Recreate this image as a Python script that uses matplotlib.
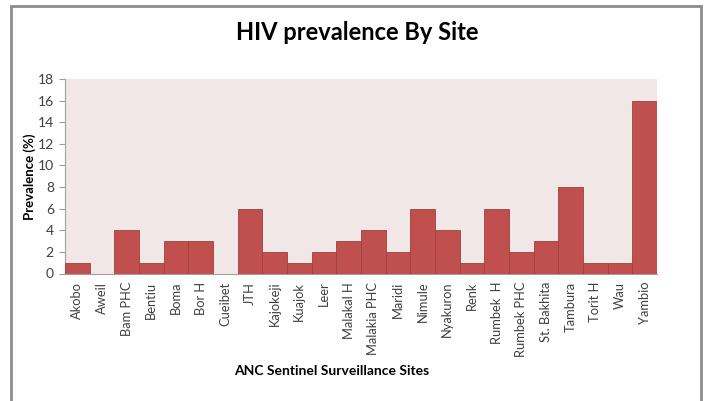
import matplotlib
matplotlib.use("Agg")
import matplotlib.pyplot as plt
from matplotlib.patches import Rectangle

sites = ["Akobo", "Aweil", "Bam PHC", "Bentiu", "Boma", "Bor H", "Cueibet",
         "JTH", "Kajokeji", "Kuajok", "Leer", "Malakal H", "Malakia PHC",
         "Maridi", "Nimule", "Nyakuron", "Renk", "Rumbek  H", "Rumbek PHC",
         "St. Bakhita", "Tambura", "Torit H", "Wau", "Yambio"]
prevalence = [1, 0, 4, 1, 3, 3, 0, 6, 2, 1, 2, 3, 4, 2, 6, 4, 1, 6, 2, 3, 8,
              1, 1, 16]
yticks = list(range(0, 19, 2))

plt.rcParams['font.family'] = ['Lato', 'DejaVu Sans']

W, H = 704, 401
fig = plt.figure(figsize=(W / 100, H / 100), dpi=100)
ax = fig.add_axes([65 / W, 1 - 273.5 / H, (657 - 65) / W, (273.5 - 79) / H])

x = range(len(sites))
ax.bar(x, prevalence, width=1.0, color="#C0504D", edgecolor="#A03F3C",
       linewidth=0.6, zorder=3)
ax.set_facecolor("#F2E7E7")
ax.set_xlim(-0.5, len(sites) - 0.5)
ax.set_ylim(0, 18)
ax.set_yticks(yticks)
ax.set_xticks(list(x))
ax.set_xticklabels(sites, rotation=90, fontsize=9.3, color="#404040")
ax.tick_params(axis='x', length=0, pad=6)
ax.tick_params(axis='y', labelsize=10, colors="#404040", length=4,
               color="#A0A0A0", pad=4)

for s in ["top", "right"]:
    ax.spines[s].set_visible(False)
ax.spines["left"].set_color("#A0A0A0")
ax.spines["bottom"].set_color("#A0A0A0")

ax.set_ylabel("Prevalence (%)", fontsize=9.5, fontweight="bold", labelpad=1)
fig.text(332 / W, 1 - 371 / H, "ANC Sentinel Surveillance Sites",
         ha="center", va="center", fontsize=10, fontweight="bold")
fig.text(357 / W, 1 - 33 / H, "HIV prevalence By Site", ha="center",
         va="center", fontsize=17, fontweight="bold")

# outer chart frame
fig.patches.append(Rectangle((11 / W, -0.02), (701 - 11) / W, 1 - 6 / H + 0.02,
                             transform=fig.transFigure, fill=False,
                             edgecolor="#8C8C8C", linewidth=2))

fig.savefig("out.png", dpi=100)
